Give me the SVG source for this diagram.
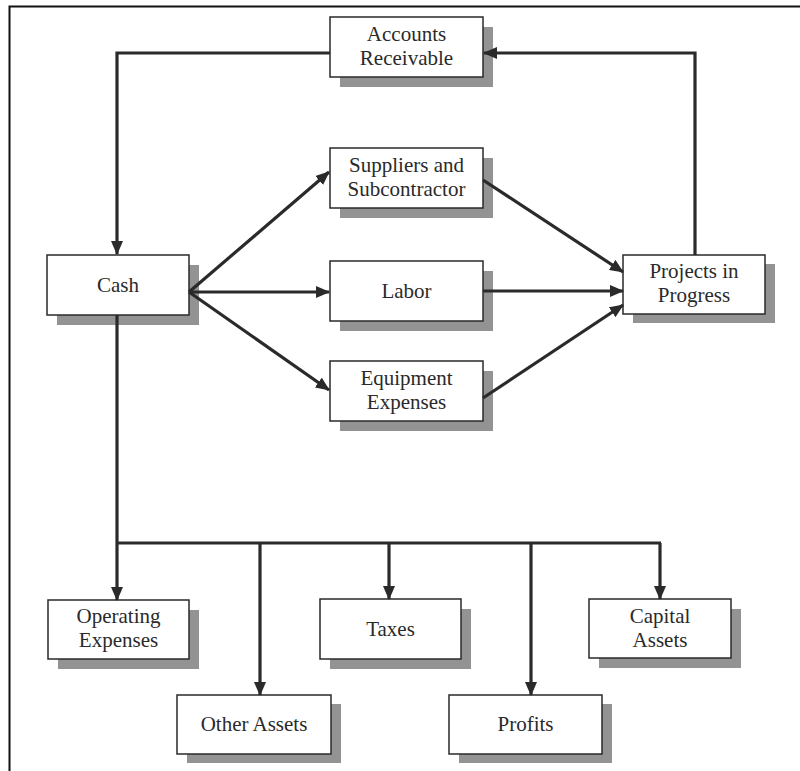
<svg xmlns="http://www.w3.org/2000/svg" width="800" height="771" viewBox="0 0 800 771">
<style>
.box{fill:#fff;stroke:#2a2a2a;stroke-width:1.5}
.sh{fill:#939393}
.t{font-family:"Liberation Serif","Times New Roman",serif;font-size:21px;fill:#2a2a2a;text-anchor:middle}
.c{fill:none;stroke:#2a2a2a;stroke-width:3.2;stroke-linejoin:miter}
</style>
<defs>
<marker id="ah" viewBox="0 0 14 12" refX="13" refY="6" markerWidth="14" markerHeight="12" markerUnits="userSpaceOnUse" orient="auto">
<path d="M0,0 L14,6 L0,12 z" fill="#2a2a2a"/>
</marker>
</defs>
<rect width="800" height="771" fill="#fff"/>
<path d="M9.5,771 V6.5 H800" fill="none" stroke="#111" stroke-width="2"/>
<g id="accounts-receivable">
<rect class="sh" x="340" y="27" width="153" height="60"/>
<rect class="box" x="330" y="17" width="153" height="60"/>
<text class="t" x="406.5" y="41">Accounts</text>
<text class="t" x="406.5" y="65">Receivable</text>
</g>
<g id="cash">
<rect class="sh" x="57" y="265" width="142" height="60"/>
<rect class="box" x="47" y="255" width="142" height="60"/>
<text class="t" x="118" y="292">Cash</text>
</g>
<g id="suppliers">
<rect class="sh" x="340" y="158" width="153" height="60"/>
<rect class="box" x="330" y="148" width="153" height="60"/>
<text class="t" x="406.5" y="172">Suppliers and</text>
<text class="t" x="406.5" y="196">Subcontractor</text>
</g>
<g id="labor">
<rect class="sh" x="340" y="271" width="153" height="60"/>
<rect class="box" x="330" y="261" width="153" height="60"/>
<text class="t" x="406.5" y="298">Labor</text>
</g>
<g id="equipment">
<rect class="sh" x="340" y="371" width="153" height="60"/>
<rect class="box" x="330" y="361" width="153" height="60"/>
<text class="t" x="406.5" y="385">Equipment</text>
<text class="t" x="406.5" y="409">Expenses</text>
</g>
<g id="projects">
<rect class="sh" x="633" y="264" width="142" height="59"/>
<rect class="box" x="623" y="255" width="142" height="59"/>
<text class="t" x="694" y="278">Projects in</text>
<text class="t" x="694" y="302">Progress</text>
</g>
<g id="operating-expenses">
<rect class="sh" x="58" y="610" width="141" height="59"/>
<rect class="box" x="48" y="600" width="141" height="59"/>
<text class="t" x="118.5" y="623">Operating</text>
<text class="t" x="118.5" y="647">Expenses</text>
</g>
<g id="other-assets">
<rect class="sh" x="187" y="704" width="154" height="59"/>
<rect class="box" x="177" y="695" width="154" height="59"/>
<text class="t" x="254" y="731">Other Assets</text>
</g>
<g id="taxes">
<rect class="sh" x="330" y="609" width="141" height="60"/>
<rect class="box" x="320" y="599" width="141" height="60"/>
<text class="t" x="390.5" y="636">Taxes</text>
</g>
<g id="profits">
<rect class="sh" x="459" y="704" width="153" height="59"/>
<rect class="box" x="449" y="695" width="153" height="59"/>
<text class="t" x="525.5" y="731">Profits</text>
</g>
<g id="capital-assets">
<rect class="sh" x="599" y="609" width="142" height="59"/>
<rect class="box" x="589" y="599" width="142" height="59"/>
<text class="t" x="660" y="623">Capital</text>
<text class="t" x="660" y="647">Assets</text>
</g>
<g id="connectors">
<path class="c" d="M330,53 H117 V254" marker-end="url(#ah)"/>
<path class="c" d="M695,255 V53 H484" marker-end="url(#ah)"/>
<path class="c" d="M189,292 L329,172" marker-end="url(#ah)"/>
<path class="c" d="M189,292 H329" marker-end="url(#ah)"/>
<path class="c" d="M189,292 L329,390" marker-end="url(#ah)"/>
<path class="c" d="M483,180 L623,272" marker-end="url(#ah)"/>
<path class="c" d="M483,291 H623" marker-end="url(#ah)"/>
<path class="c" d="M483,398 L623,305" marker-end="url(#ah)"/>
<path class="c" d="M117,315 V600" marker-end="url(#ah)"/>
<path class="c" d="M117,543 H661"/>
<path class="c" d="M260,543 V695" marker-end="url(#ah)"/>
<path class="c" d="M389,543 V599" marker-end="url(#ah)"/>
<path class="c" d="M531,543 V695" marker-end="url(#ah)"/>
<path class="c" d="M660,543 V599" marker-end="url(#ah)"/>
</g>
</svg>
